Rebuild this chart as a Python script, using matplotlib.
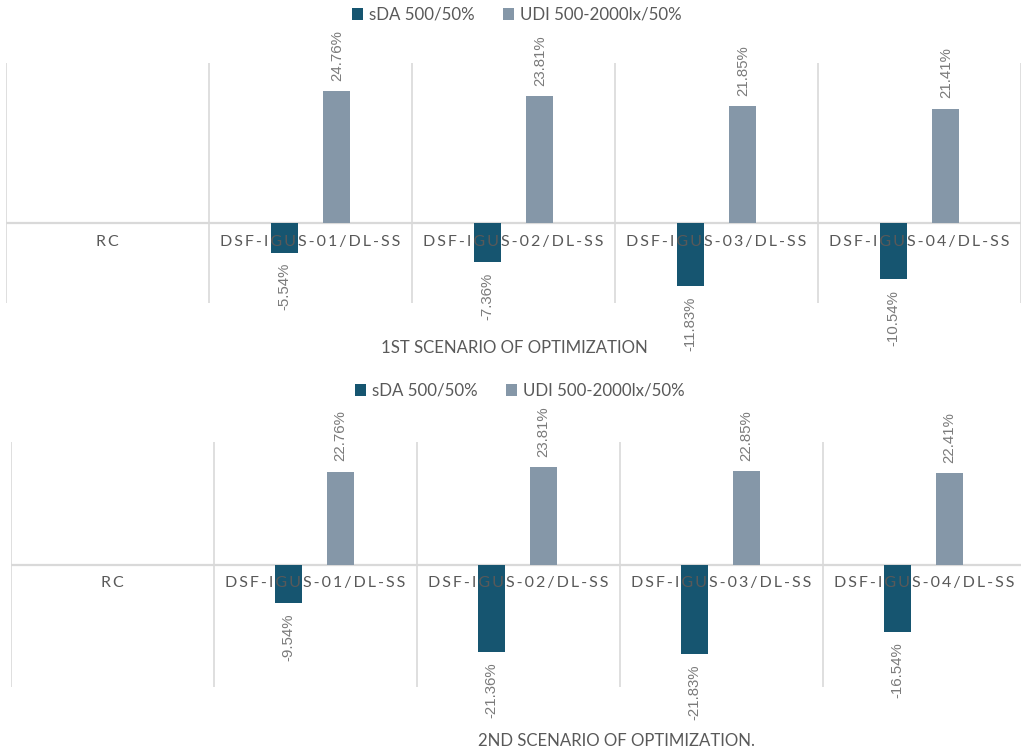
import matplotlib
matplotlib.use("Agg")
import matplotlib.pyplot as plt
from matplotlib.patches import Patch
import numpy as np

# Data
categories = ["RC", "DSF-IGUS-01/DL-SS", "DSF-IGUS-02/DL-SS",
              "DSF-IGUS-03/DL-SS", "DSF-IGUS-04/DL-SS"]
series_names = ["sDA 500/50%", "UDI 500-2000lx/50%"]

sda_s1 = [np.nan, -5.54, -7.36, -11.83, -10.54]
udi_s1 = [np.nan, 24.76, 23.81, 21.85, 21.41]
sda_s2 = [np.nan, -9.54, -21.36, -21.83, -16.54]
udi_s2 = [np.nan, 22.76, 23.81, 22.85, 22.41]

titles = ["1ST SCENARIO OF OPTIMIZATION", "2ND SCENARIO OF OPTIMIZATION."]

# Style
C_SDA = "#165570"
C_UDI = "#8597a8"
C_GRID = "#d9d9d9"
C_TEXT = "#595959"
C_VAL = "#7a7a7a"
MAIN_FONT = ["Lato", "DejaVu Sans"]
VAL_FONT = ["Liberation Sans", "DejaVu Sans"]

W, H = 1021, 750
fig = plt.figure(figsize=(W / 100, H / 100), dpi=100)
fig.patch.set_facecolor("white")


def px_axes(left, top, width, height):
    return fig.add_axes([left / W, 1 - (top + height) / H, width / W, height / H])


def tracked(s):
    # widen letter spacing with thin spaces
    return "\u2009".join(s)


def draw_panel(ax, sda, udi, ylim, offsets):
    x = np.arange(len(categories))
    bw = 0.133
    ax.bar(x + offsets[0], sda, bw, color=C_SDA, zorder=2)
    ax.bar(x + offsets[1], udi, bw, color=C_UDI, zorder=2)
    ax.set_xlim(-0.5, len(categories) - 0.5)
    ax.set_ylim(*ylim)
    for b in np.arange(len(categories) + 1) - 0.5:
        ax.axvline(b, color=C_GRID, lw=1.2, zorder=1)
    ax.axhline(0, color=C_GRID, lw=1.6, zorder=1)
    for s in ax.spines.values():
        s.set_visible(False)
    ax.set_xticks([])
    ax.set_yticks([])
    # category labels on the zero line
    for xi, cat in zip(x, categories):
        ax.annotate(tracked(cat), (xi, 0), xytext=(0, -13.5),
                    textcoords="offset points", ha="center", va="center",
                    fontsize=11.5, color=C_TEXT, family=MAIN_FONT, zorder=3)
    # value labels
    for vals, off in ((sda, offsets[0]), (udi, offsets[1])):
        for xi, v in zip(x, vals):
            if np.isnan(v):
                continue
            if v >= 0:
                ax.annotate(f"{v:.2f}%", (xi + off, v), xytext=(0, 7.5),
                            textcoords="offset points", rotation=90,
                            ha="center", va="bottom", fontsize=10.8,
                            color=C_VAL, family=VAL_FONT)
            else:
                ax.annotate(f"{v:.2f}%", (xi + off, v), xytext=(0, -7.5),
                            textcoords="offset points", rotation=90,
                            ha="center", va="top", fontsize=10.8,
                            color=C_VAL, family=VAL_FONT)


def draw_legend(cx, cy):
    handles = [Patch(facecolor=C_SDA, edgecolor="none"),
               Patch(facecolor=C_UDI, edgecolor="none")]
    fig.legend(handles, series_names, loc="center",
               bbox_to_anchor=(cx / W, 1 - cy / H), ncol=2, frameon=False,
               prop={"family": MAIN_FONT, "size": 12.2},
               labelcolor=C_TEXT, handlelength=0.65, handleheight=0.65,
               handletextpad=0.35, columnspacing=1.7, borderaxespad=0,
               borderpad=0)


ax1 = px_axes(6, 63, 1015, 240)
draw_panel(ax1, sda_s1, udi_s1, (-15, 30), (-0.128, 0.13))
draw_legend(517, 15)
fig.text(514 / W, 1 - 348 / H, titles[0], ha="center", va="center",
         fontsize=12.1, color=C_TEXT, family=MAIN_FONT)

ax2 = px_axes(11, 442, 1015, 245)
draw_panel(ax2, sda_s2, udi_s2, (-30, 30), (-0.135, 0.123))
draw_legend(520, 391)
fig.text(616 / W, 1 - 741 / H, titles[1], ha="center", va="center",
         fontsize=12.1, color=C_TEXT, family=MAIN_FONT)

fig.savefig("out.png", dpi=100, facecolor="white")
